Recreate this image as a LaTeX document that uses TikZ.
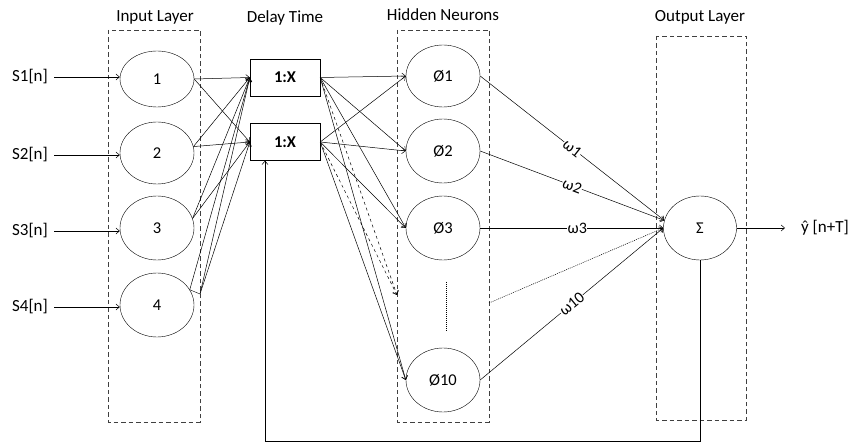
\documentclass[tikz,border=0pt]{standalone}
\usepackage{fontspec}
\setmainfont{Carlito}
\usetikzlibrary{shapes.geometric,arrows.meta}
\tikzset{
  neuron/.style={draw, ellipse, minimum width=74pt, minimum height=60pt, inner sep=0pt, font=\fontsize{16.5}{18}\selectfont},
  delaybox/.style={draw, rectangle, minimum width=70pt, minimum height=37pt, inner sep=0pt, font=\bfseries\fontsize{16.5}{18}\selectfont},
  layerbox/.style={draw=black!75, dash pattern=on 4.5pt off 3pt, line width=0.7pt},
  title/.style={font=\fontsize{17}{19}\selectfont},
  lbl/.style={font=\fontsize{17}{19}\selectfont},
  conn/.style={-{Straight Barb[length=3.5pt,width=6pt]}, line width=0.5pt},
  dconn/.style={conn, dashed},
  dotline/.style={dash pattern=on 1pt off 1pt, line width=0.5pt},
  wlabel/.style={sloped, fill=white, inner sep=0.5pt, pos=0.5, font=\fontsize{16}{18}\selectfont}
}
\begin{document}
\begin{tikzpicture}[x=1pt,y=-1pt]
\useasboundingbox (0,0) rectangle (852,443);
% titles
\node[title] (tin) at (155,17) {Input Layer};
\node[title] (tdel) at (285,18) {Delay Time};
\node[title] (thid) at (443,15) {Hidden Neurons};
\node[title] (tout) at (700,17) {Output Layer};
% layer boxes
\draw[layerbox] (108,30) rectangle (200,422);
\draw[layerbox] (397,30) rectangle (489,422);
\draw[layerbox] (656,36) rectangle (746,420);
% input neurons
\node[neuron, minimum height=56pt] (n1) at (157,79) {1};
\node[neuron, minimum height=62pt] (n2) at (157,153) {2};
\node[neuron, minimum height=64pt] (n3) at (157,228) {3};
\node[neuron, minimum height=64pt] (n4) at (157,305) {4};
% input labels
\node[lbl] (s1) at (30,77) {S1[n]};
\node[lbl] (s2) at (30,155) {S2[n]};
\node[lbl] (s3) at (30,231) {S3[n]};
\node[lbl] (s4) at (30,307) {S4[n]};
\foreach \i in {1,2,3,4} { \draw[conn] (s\i.east) ++(3,0) coordinate (sa\i) -- (sa\i -| n\i.west); }
% delay boxes
\node[delaybox] (b1) at (285,77.5) {1:X};
\node[delaybox] (b2) at (285,142) {1:X};
% hidden neurons
\node[neuron, minimum height=62pt] (h1) at (443,76) {Ø1};
\node[neuron, minimum height=64pt] (h2) at (443,151) {Ø2};
\node[neuron, minimum height=64pt] (h3) at (443,228) {Ø3};
\node[neuron, minimum height=64pt] (h10) at (443,380) {Ø10};
\coordinate (dd) at (397,295);
\draw[dotline] (446,282) -- (446,332);
% sum neuron
\node[neuron, minimum width=73pt, minimum height=64pt] (sum) at (700,228) {Σ};
% input -> delay
\draw[conn] (n1.east) -- (b1.west);
\draw[conn] (n1.east) -- (b2.west);
\draw[conn] (n2.10) -- (b1.west);
\draw[conn] (n2.10) -- (b2.west);
\draw[conn] (n3.15) -- (b1.west);
\draw[conn] (n3.15) -- (b2.west);
\coordinate (n4o) at (200,294);
\draw (n4.25) -- (n4o);
\draw[conn] (n4.25) -- (b1.west);
\draw[conn] (n4o) -- (b1.west);
\draw[conn] (n4o) -- (b2.west);
% delay -> hidden
\foreach \b in {b1,b2} {
  \draw[conn] (\b.east) -- (h1.west);
  \draw[conn] (\b.east) -- (h2.west);
  \draw[conn] (\b.east) -- (h3.west);
  \draw[dconn] (\b.east) -- (dd);
  \draw[conn] (\b.east) -- (h10.west);
}
% hidden -> sum
\draw[conn] (h1.east) -- node[wlabel] {ω1} (sum.168);
\draw[conn] (h2.east) -- node[wlabel] {ω2} (sum.168);
\draw[conn] (h3.east) -- node[wlabel, pos=0.53] {ω3} (sum.west);
\coordinate (dots) at (489,303);
\draw[conn, dotline] (dots) -- (sum.west);
\draw[conn] (h10.east) -- node[wlabel] {ω10} (sum.west);
% output
\node[lbl] (yout) at (825,228) {ŷ [n+T]};
\draw[conn] (sum.east) -- (785,228);
% feedback
\coordinate (fb) at (265,441);
\draw[conn] (sum.south) |- (fb) -- (fb |- b2.south);
\end{tikzpicture}
\end{document}
